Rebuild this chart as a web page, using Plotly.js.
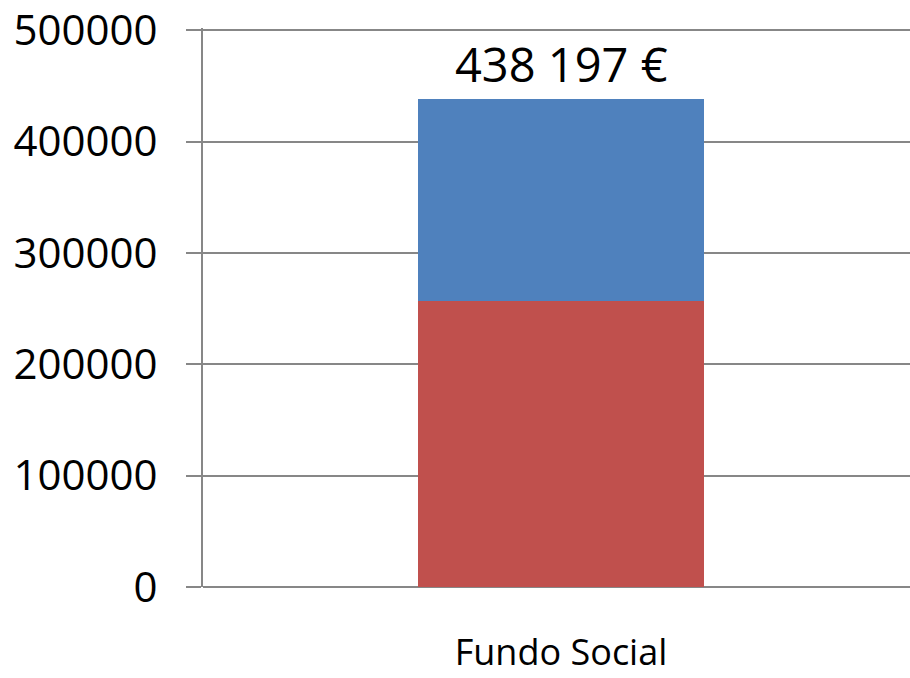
<!DOCTYPE html>
<html>
<head>
<meta charset="utf-8">
<script src="https://cdn.plot.ly/plotly-3.0.1.min.js"></script>
<style>html,body{margin:0;padding:0;background:#fff;}#chart{width:910px;height:678px;}</style>
</head>
<body>
<div id="chart"></div>
<script>
const categories = ["Fundo Social"];
const redValues = [256700];
const blueValues = [181497];
const yTickValues = [0, 100000, 200000, 300000, 400000, 500000];
const yTickLabels = ["0", "100000", "200000", "300000", "400000", "500000"];

const totals = categories.map((c, i) => redValues[i] + blueValues[i]);
function fmt(v) {
  return String(v).replace(/\B(?=(\d{3})+(?!\d))/g, " ") + " €";
}

const gridColor = "#878787";
const font = "Open Sans, Liberation Sans, sans-serif";

const traces = [
  {type: "bar", x: categories, y: redValues, width: 0.4, marker: {color: "#C0504D"}, hoverinfo: "none"},
  {type: "bar", x: categories, y: blueValues, width: 0.4, marker: {color: "#4F81BD"}, hoverinfo: "none"}
];

const layout = {
  width: 910, height: 678,
  margin: {l: 203, r: 0, t: 28, b: 91, pad: 0},
  paper_bgcolor: "#fff", plot_bgcolor: "#fff",
  barmode: "stack",
  showlegend: false,
  font: {family: font, color: "#000"},
  xaxis: {
    type: "category",
    range: [-0.5, 0.4874],
    showgrid: false,
    showline: false,
    zeroline: false,
    ticks: "",
    tickfont: {size: 36, family: font, color: "#000"},
    ticklabelstandoff: 41,
    fixedrange: true
  },
  yaxis: {
    range: [0, 502000],
    tickvals: yTickValues,
    ticktext: yTickLabels,
    showgrid: true,
    gridcolor: gridColor,
    gridwidth: 2,
    zeroline: true,
    zerolinecolor: gridColor,
    zerolinewidth: 2,
    showline: true,
    linecolor: gridColor,
    linewidth: 2,
    ticks: "outside",
    ticklen: 15,
    tickwidth: 2,
    tickcolor: gridColor,
    tickfont: {size: 42, family: font, color: "#000"},
    ticklabelstandoff: 20,
    ticklabeloverflow: "allow",
    fixedrange: true
  },
  annotations: categories.map((c, i) => ({
    x: c, y: totals[i], xref: "x", yref: "y",
    text: fmt(totals[i]),
    showarrow: false,
    yanchor: "bottom",
    yshift: 1,
    font: {size: 47, family: font, color: "#000"}
  }))
};

Plotly.newPlot("chart", traces, layout, {displayModeBar: false, staticPlot: true});
</script>
</body>
</html>
